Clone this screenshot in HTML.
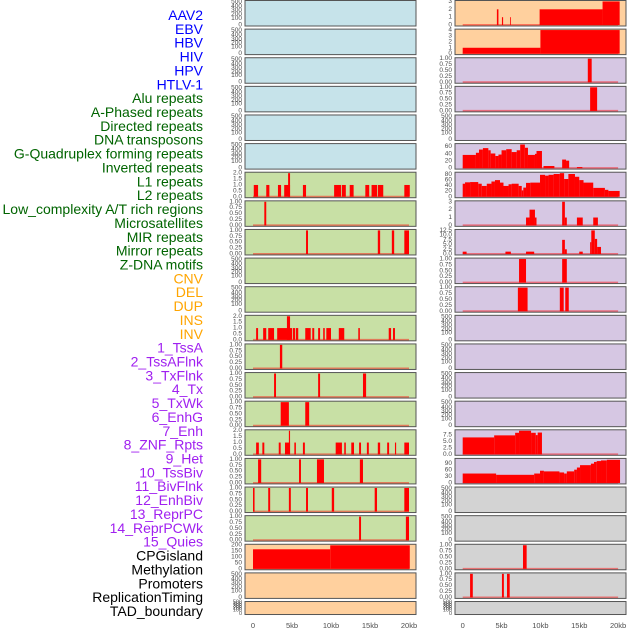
<!DOCTYPE html>
<html><head><meta charset="utf-8"><style>
html,body{margin:0;padding:0;background:#fff;}
svg{display:block;font-family:"Liberation Sans",sans-serif;}
</style></head><body>
<svg id="chart" width="630" height="630" viewBox="0 0 630 630" xmlns="http://www.w3.org/2000/svg"></svg>
<script>
// ---- data ----
const trackLabels = ["AAV2","EBV","HBV","HIV","HPV","HTLV-1","Alu repeats","A-Phased repeats","Directed repeats","DNA transposons","G-Quadruplex forming repeats","Inverted repeats","L1 repeats","L2 repeats","Low_complexity A/T rich regions","Microsatellites","MIR repeats","Mirror repeats","Z-DNA motifs","CNV","DEL","DUP","INS","INV","1_TssA","2_TssAFlnk","3_TxFlnk","4_Tx","5_TxWk","6_EnhG","7_Enh","8_ZNF_Rpts","9_Het","10_TssBiv","11_BivFlnk","12_EnhBiv","13_ReprPC","14_ReprPCWk","15_Quies","CPGisland","Methylation","Promoters","ReplicationTiming","TAD_boundary"];
const labelGroups = [6,13,5,15,5];
const groupColors = ["#0000ff","#006400","#ffa500","#a020f0","#000000"];
const xTickValues = [0,5,10,15,20];
const xTickLabels = ["0","5kb","10kb","15kb","20kb"];
const leftFill = ["#c6e3ea","#c6e3ea","#c6e3ea","#c6e3ea","#c6e3ea","#c6e3ea","#c8e0a5","#c8e0a5","#c8e0a5","#c8e0a5","#c8e0a5","#c8e0a5","#c8e0a5","#c8e0a5","#c8e0a5","#c8e0a5","#c8e0a5","#c8e0a5","#c8e0a5","#ffd09e","#ffd09e","#ffd09e"];
const rightFill = ["#ffd09e","#ffd09e","#d6c7e3","#d6c7e3","#d6c7e3","#d6c7e3","#d6c7e3","#d6c7e3","#d6c7e3","#d6c7e3","#d6c7e3","#d6c7e3","#d6c7e3","#d6c7e3","#d6c7e3","#d6c7e3","#d6c7e3","#d3d3d3","#d3d3d3","#d3d3d3","#d3d3d3","#d3d3d3"];
const leftMax = [0,0,0,0,0,0,2,1,1,0,0,2,1,1,1,2,1,1,1,197,0,0];
const rightMax = [3,4,1,1,0,66,85,3,12.5,1,1,0,0,0,0,9.2,110,0,0,1,1,0];
const leftTicks = [null,null,null,null,null,null,[0,0.5,1,1.5,2],[0,0.25,0.5,0.75,1],[0,0.25,0.5,0.75,1],null,null,[0,0.5,1,1.5,2],[0,0.25,0.5,0.75,1],[0,0.25,0.5,0.75,1],[0,0.25,0.5,0.75,1],[0,0.5,1,1.5,2],[0,0.25,0.5,0.75,1],[0,0.25,0.5,0.75,1],[0,0.25,0.5,0.75,1],[0,50,100,150,200],null,null];
const rightTicks = [[0,1,2,3],[0,1,2,3,4],[0,0.25,0.5,0.75,1],[0,0.25,0.5,0.75,1],null,[0,20,40,60],[0,20,40,60,80],[0,1,2,3],[0,2.5,5,7.5,10,12.5],[0,0.25,0.5,0.75,1],[0,0.25,0.5,0.75,1],null,null,null,null,[0,2.5,5,7.5],[0,30,60,90],null,null,[0,0.25,0.5,0.75,1],[0,0.25,0.5,0.75,1],null];
const leftDigits = [0,0,0,0,0,0,1,2,2,0,0,1,2,2,2,1,2,2,2,0,0,0];
const rightDigits = [0,0,2,2,0,0,0,0,1,2,2,0,0,0,0,1,0,0,0,2,2,0];
const emptyTicks = [0,100,200,300,400,500];
const leftSegs = [[],[],[],[],[],[],
 [[0.1,0.65,1],[1.7,2.1,1],[3.2,3.6,1],[4.0,4.75,1],[4.5,4.75,2],[6.4,6.8,1],[10.4,11.3,1],[11.4,11.9,1],[12.4,12.9,1],[14.4,14.9,1],[15.2,15.9,1],[16.0,16.7,1],[19.4,20.1,1]],
 [[1.45,1.7,1]],
 [[6.8,7.05,1],[16.0,16.3,1],[17.8,18.1,1],[19.4,20.0,1]],
 [],[],
 [[0.4,0.65,1],[1.3,1.7,1],[1.95,2.7,1],[3.1,5.0,1],[4.35,4.75,2],[5.1,5.4,1],[5.5,5.8,1],[6.7,7.4,1],[7.6,7.85,1],[8.35,8.6,1],[9.0,9.2,1],[9.4,10.0,1],[11.0,11.7,1],[13.5,13.7,1],[17.4,17.7,1],[17.95,18.2,1]],
 [[3.45,3.75,1]],
 [[2.7,2.95,1],[8.35,8.6,1],[14.1,14.5,1]],
 [[3.55,4.6,1],[6.7,7.2,1]],
 [[0.4,0.75,1],[1.2,1.45,1],[3.3,3.55,1],[4.1,4.75,1],[4.6,4.75,2],[5.3,5.5,1],[6.4,6.65,1],[10.6,11.4,1],[11.7,11.9,1],[12.6,12.95,1],[13.6,13.85,1],[14.6,14.85,1],[16.0,16.3,1],[17.2,17.45,1],[18.2,18.35,1],[19.4,20.0,1]],
 [[0.65,1.05,1],[5.9,6.15,1],[8.2,9.1,1],[13.7,14.1,1]],
 [[0,0.2,1],[1.95,2.2,1],[4.6,4.85,1],[6.8,7.05,1],[10.1,10.4,1],[15.6,15.9,1],[19.4,20.0,1]],
 [[13.6,13.85,1],[19.6,20.0,1]],
 [[0,9.9,163],[9.9,20.1,196]],
 [],[]];
const rightSegs = [
 [[4.4,4.6,2],[5.05,5.2,1],[6.1,6.2,1],[9.9,18.0,2],[18.0,20.2,3]],
 [[0,10,1],[10,20.2,4]],
 [[16.1,16.6,1]],
 [[16.4,17.3,1]],
 [],
 [[0,1.7,37],[1.7,2.1,43],[2.1,2.6,52],[2.6,3.3,56],[3.3,3.6,50],[3.6,4.2,41],[4.2,4.6,34],[4.6,5.0,38],[5.0,5.6,50],[5.6,6.3,53],[6.3,6.95,45],[6.95,7.4,50],[7.4,8.0,66],[8.0,8.4,57],[8.4,9.3,37],[9.3,9.5,40],[9.5,10.2,48],[10.4,11.8,6],[12.8,13.3,24],[13.3,13.7,21],[14.7,15.4,3]],
 [[0,0.3,47],[0.3,0.95,52],[0.95,2.0,53],[2.0,2.45,47],[2.45,3.1,39],[3.1,3.7,47],[3.7,4.15,55],[4.15,4.8,60],[4.8,5.25,51],[5.25,5.9,39],[5.9,6.3,45],[6.3,7.2,47],[7.2,7.6,39],[7.6,7.8,23],[7.8,8.15,33],[8.15,8.7,50],[8.7,9.95,51],[9.95,10.6,79],[10.6,11.05,76],[11.05,11.7,79],[11.7,12.5,82],[12.5,13.05,85],[13.05,13.6,64],[13.6,14.45,82],[14.45,15.0,72],[15.0,15.55,60],[15.55,16.8,51],[16.8,18.3,32],[18.3,18.75,25],[18.75,20.2,21]],
 [[8.15,8.6,1],[8.6,9.3,2],[9.3,9.5,1],[12.8,13.15,3],[13.15,13.4,1],[14.7,15.45,1],[16.8,17.4,1]],
 [[0,0.5,1.25],[5.5,6.2,1.25],[8.15,9.2,1.25],[12.8,13.15,7.5],[13.15,13.4,2.5],[15.0,15.45,1.25],[16.4,16.55,6.25],[16.55,17.0,12.5],[17.0,17.3,8],[17.3,17.8,3.75]],
 [[7.25,8.15,1],[12.8,13.4,1]],
 [[7.1,8.35,1],[12.5,13.0,1],[13.2,13.65,1]],
 [],[],[],[],
 [[0,4.05,6.6],[4.05,6.75,7.4],[6.75,7.25,8.4],[7.25,8.8,9.2],[8.8,9.4,8.4],[9.4,9.65,7.5],[9.65,10.2,8.5]],
 [[0,4.3,44],[4.3,9.2,38],[9.2,9.95,44],[9.95,10.45,57],[10.45,12.45,54],[12.45,13.05,49],[13.05,13.4,44],[13.4,14.35,54],[14.35,14.7,62],[14.7,15.1,72],[15.1,16.5,83],[16.5,16.9,90],[16.9,17.25,98],[17.25,17.8,102],[17.8,18.55,105],[18.55,20.25,108]],
 [],[],
 [[7.76,8.23,1]],
 [[0.95,1.3,1],[5.05,5.3,1],[5.7,6.05,1]],
 []];

// ---- layout ----
const NS="http://www.w3.org/2000/svg";
const svg=document.getElementById('chart');
function mk(tag,attrs,parent){const e=document.createElementNS(NS,tag);for(const k in attrs)e.setAttribute(k,attrs[k]);(parent||svg).appendChild(e);return e;}
const PITCH=28.62, PH=25.5, PTOP=0.5, LAST_PH=13;
const cols=[{x0:245,x1:416,z:253,k:7.8,fill:leftFill,max:leftMax,ticks:leftTicks,dig:leftDigits,segs:leftSegs,name:'left'},
            {x0:455,x1:626,z:462.7,k:7.77,fill:rightFill,max:rightMax,ticks:rightTicks,dig:rightDigits,segs:rightSegs,name:'right'}];

let li=0;
labelGroups.forEach((n,g)=>{for(let j=0;j<n;j++){
  const t=mk('text',{x:203,y:15+li*13.86,'text-anchor':'end','dominant-baseline':'central','font-size':'14',fill:groupColors[g]});
  t.textContent=trackLabels[li];
  
  
  li++;}});

cols.forEach(c=>{
  const xs=kb=>c.z+kb*c.k;
  for(let i=0;i<22;i++){
    const top=PTOP+i*PITCH;
    const ph=(i===21)?LAST_PH:PH;
    const bot=top+ph;
    const g=mk('g',{});
    
    
    mk('rect',{x:c.x0,y:top,width:c.x1-c.x0,height:ph,fill:c.fill[i]},g);
    const M=c.max[i];
    if(M===0){
      const fr=[0.96,0.7,0.55,0.4,0.24,0.06];
      const fs=(i===21)?'5.5':'6.5';
      emptyTicks.forEach((v,j)=>{const t=mk('text',{x:c.x0-3,y:top+fr[j]*ph,'text-anchor':'end','dominant-baseline':'central','font-size':fs,fill:'#4d4d4d'},g);t.textContent=v;
        });
    } else {
      const lo=-0.04*M, hi=1.04*M;
      const ys=v=>bot-(v-lo)/(hi-lo)*ph;
      c.segs[i].forEach(s=>{
        const r=mk('rect',{x:xs(s[0]),y:ys(s[2]),width:Math.max(0.8,xs(s[1])-xs(s[0])),height:ys(0)-ys(s[2]),fill:'#ff0000'},g);
        
        
      });
      const bl=mk('line',{x1:xs(0),x2:xs(20),y1:ys(0),y2:ys(0),stroke:'#ff0000','stroke-opacity':'0.45','stroke-width':'2'},g);
      
      
      c.ticks[i].forEach(v=>{const t=mk('text',{x:c.x0-3,y:ys(v),'text-anchor':'end','dominant-baseline':'central','font-size':'6.5',fill:'#4d4d4d'},g);t.textContent=v.toFixed(c.dig[i]);
        });
    }
    mk('rect',{x:c.x0,y:top,width:c.x1-c.x0,height:ph,fill:'none',stroke:'#555','stroke-width':'1'},g);
  }
  xTickValues.forEach((v,j)=>{
    const t=mk('text',{x:xs(v),y:628,'text-anchor':'middle','font-size':'7.5',fill:'#4d4d4d'});
    t.textContent=xTickLabels[j];
    
    
  });
});
</script>
</body></html>
